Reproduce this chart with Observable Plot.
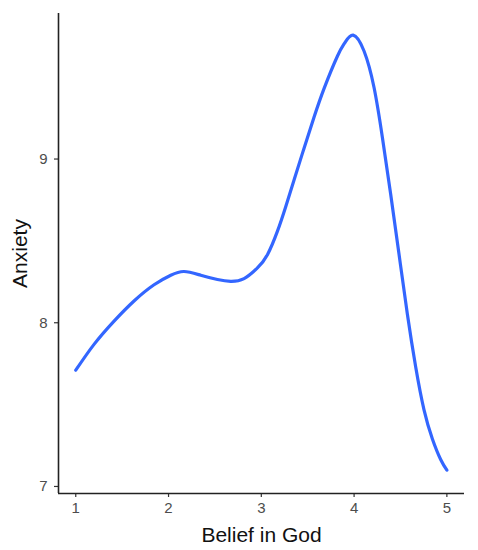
<!DOCTYPE html>
<html>
<head>
<meta charset="utf-8">
<script src="https://cdn.jsdelivr.net/npm/d3@7"></script>
<script src="https://cdn.jsdelivr.net/npm/@observablehq/plot@0.6"></script>
<style>
  body { margin: 0; background: #fff; }
  #chart svg { font-family: "Liberation Sans", Arial, sans-serif; }
</style>
</head>
<body>
<div id="chart"></div>
<script>
// Smoothed curve
const belief  = [1.00, 1.197, 1.413, 1.628, 1.844, 2.024, 2.167, 2.347, 2.527, 2.67, 2.814, 2.958, 3.066, 3.173, 3.263, 3.352, 3.460, 3.568, 3.676, 3.820, 3.90, 3.99, 4.107, 4.215, 4.305, 4.394, 4.484, 4.574, 4.664, 4.753, 4.844, 4.933, 5.00];
const anxiety = [7.71, 7.868, 8.01, 8.133, 8.232, 8.29, 8.313, 8.29, 8.264, 8.253, 8.27, 8.335, 8.416, 8.558, 8.709, 8.87, 9.065, 9.255, 9.43, 9.628, 9.71, 9.757, 9.66, 9.437, 9.132, 8.786, 8.42, 8.053, 7.73, 7.47, 7.29, 7.165, 7.10];
const xTicks = [1, 2, 3, 4, 5];
const yTicks = [7, 8, 9];
const xDomain = [0.814, 5.19];
const yDomain = [6.957, 9.889];

const data = belief.map((b, i) => ({belief: b, anxiety: anxiety[i]}));

const chart = Plot.plot({
  width: 478,
  height: 550,
  marginLeft: 58,
  marginRight: 14,
  marginTop: 13,
  marginBottom: 57,
  style: {fontSize: "15px", fontFamily: "Liberation Sans, Arial, sans-serif", background: "#fff"},
  x: {domain: xDomain},
  y: {domain: yDomain},
  marks: [
    Plot.axisX({ticks: xTicks, tickFormat: d3.format("d"), tickSize: 4, tickPadding: 5, fontSize: 15, stroke: "#333", strokeWidth: 1.2, fill: "#4d4d4d",
      label: "Belief in God", labelAnchor: "center", labelArrow: "none", labelOffset: 48}),
    Plot.axisY({ticks: yTicks, tickFormat: d3.format("d"), tickSize: 4, tickPadding: 7, fontSize: 15, stroke: "#333", strokeWidth: 1.2, fill: "#4d4d4d",
      label: "Anxiety", labelAnchor: "center", labelArrow: "none", labelOffset: 46.5}),
    Plot.ruleX([xDomain[0]], {stroke: "#222", strokeWidth: 1.6}),
    Plot.ruleY([yDomain[0]], {stroke: "#222", strokeWidth: 1.6}),
    Plot.line(data, {x: "belief", y: "anxiety", curve: "natural", stroke: "#3366FF", strokeWidth: 3.2})
  ]
});
document.getElementById("chart").append(chart);
// tick labels like ggplot's theme_classic
chart.querySelectorAll("g[aria-label='x-axis tick label'], g[aria-label='y-axis tick label']").forEach(g => {
  g.setAttribute("font-size", "15");
  g.style.fontSize = "15px";
});
// make axis titles larger and darker, like ggplot
chart.querySelectorAll("g[aria-label='x-axis label'] text, g[aria-label='y-axis label'] text").forEach(t => {
  t.style.fontSize = "21px";
  t.setAttribute("fill", "#111");
});
</script>
</body>
</html>
